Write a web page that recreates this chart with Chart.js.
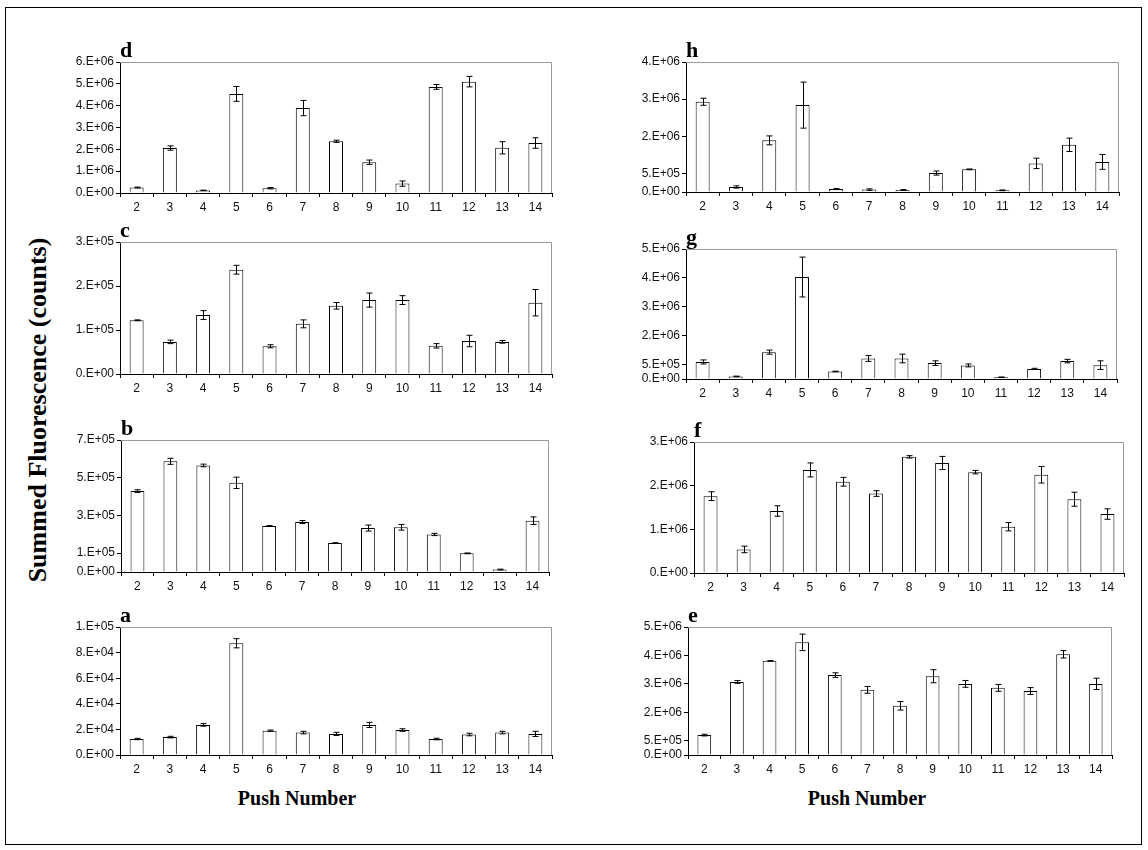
<!DOCTYPE html>
<html>
<head>
<meta charset="utf-8">
<script src="https://cdn.jsdelivr.net/npm/chart.js@4.4.0/dist/chart.umd.min.js"></script>
<style>
  body { margin: 0; background: #fff; width: 1148px; height: 850px; position: relative; overflow: hidden; }
  #frame { position: absolute; left: 5px; top: 7px; width: 1135px; height: 836px; border: 1.5px solid #000; }
  canvas { position: absolute; }
  .axis-title { position: absolute; font: bold 20px "Liberation Serif", "Times New Roman", serif; color: #000; white-space: nowrap; transform: translate(-50%, -50%); }
  #ytitle { font-size: 26px; transform: translate(-50%, -50%) rotate(-90deg); }
</style>
</head>
<body>
<div id="frame"></div>
<div class="axis-title" style="left:297px; top:798px;">Push Number</div>
<div class="axis-title" style="left:867px; top:798px;">Push Number</div>
<div class="axis-title" id="ytitle" style="left:38px; top:410px;">Summed Fluorescence (counts)</div>

<script>
// push numbers on every x axis
const pushNumbers = ['2', '3', '4', '5', '6', '7', '8', '9', '10', '11', '12', '13', '14'];

// mean summed fluorescence and error per push
const meansA = [12500, 14000, 23500, 87300, 19000, 17500, 16500, 23500, 19500, 12500, 16000, 17500, 16500];
const errsA  = [500, 600, 1000, 3600, 500, 1000, 1200, 2000, 1000, 600, 1000, 1000, 2000];

const meansB = [429000, 587000, 565000, 473000, 244000, 265000, 154000, 233000, 237000, 199000, 99000, 13000, 272000];
const errsB  = [7000, 16000, 7000, 30000, 2000, 8000, 1000, 16000, 15000, 6000, 2000, 2000, 20000];

const meansC = [122000, 73000, 134000, 237000, 63000, 114000, 155000, 168000, 168000, 64000, 75000, 73000, 162000];
const errsC  = [1000, 4000, 10000, 10000, 3500, 9000, 7500, 16000, 10000, 5000, 13000, 3000, 30000];

const meansD = [250000, 2060000, 120000, 4540000, 220000, 3890000, 2370000, 1410000, 430000, 4860000, 5100000, 2070000, 2290000];
const errsD  = [20000, 100000, 10000, 340000, 30000, 350000, 50000, 100000, 120000, 110000, 240000, 280000, 240000];

const meansE = [700000, 2570000, 3310000, 3960000, 2810000, 2290000, 1730000, 2770000, 2500000, 2360000, 2250000, 3540000, 2500000];
const errsE  = [30000, 50000, 10000, 290000, 80000, 120000, 150000, 230000, 120000, 120000, 120000, 130000, 200000];

const meansF = [1760000, 540000, 1420000, 2360000, 2090000, 1820000, 2660000, 2520000, 2310000, 1060000, 2250000, 1690000, 1350000];
const errsF  = [100000, 75000, 120000, 160000, 100000, 65000, 27000, 150000, 40000, 95000, 190000, 160000, 120000];

const meansG = [590000, 90000, 930000, 3530000, 260000, 710000, 710000, 550000, 470000, 60000, 350000, 620000, 480000];
const errsG  = [70000, 10000, 70000, 690000, 10000, 100000, 150000, 80000, 50000, 10000, 20000, 60000, 150000];

const meansH = [2430000, 135000, 1390000, 2340000, 80000, 65000, 55000, 510000, 610000, 45000, 770000, 1270000, 810000];
const errsH  = [95000, 30000, 120000, 620000, 15000, 20000, 10000, 55000, 10000, 10000, 140000, 180000, 200000];

// y tick values; the last one is the axis top
const ticksA = [0, 20000, 40000, 60000, 80000, 100000];
const ticksB = [0, 100000, 300000, 500000, 700000];
const ticksC = [0, 100000, 200000, 300000];
const ticksD = [0, 1000000, 2000000, 3000000, 4000000, 5000000, 6000000];
const ticksE = [0, 500000, 1500000, 2500000, 3500000, 4500000];
const ticksF = [0, 1000000, 2000000, 3000000];
const ticksG = [0, 500000, 1500000, 2500000, 3500000, 4500000];
const ticksH = [0, 500000, 1500000, 2500000, 3500000];

// "0.E+00" style labels, mantissa rounded to a whole number
function sciLabel(v) {
  if (v === 0) return '0.E+00';
  let e = Math.floor(Math.log10(v) + 1e-9);
  let m = Math.round(v / Math.pow(10, e) + 1e-9);
  if (m >= 10) { m = 1; e++; }
  return m + '.E' + (e < 0 ? '-' : '+') + String(Math.abs(e)).padStart(2, '0');
}

const PAD_L = 80, PAD_T = 30, PAD_R = 10, PAD_B = 28;

// gray plot-area border on top and right
const plotBorder = {
  id: 'plotBorder',
  beforeDatasetsDraw(chart) {
    const { ctx, chartArea: a } = chart;
    ctx.save();
    ctx.strokeStyle = '#9a9a9a';
    ctx.lineWidth = 1;
    ctx.beginPath();
    ctx.moveTo(a.left, a.top + 0.5);
    ctx.lineTo(a.right - 0.5, a.top + 0.5);
    ctx.lineTo(a.right - 0.5, a.bottom);
    ctx.stroke();
    ctx.restore();
  }
};

// +/- error bars with caps
const errorBars = {
  id: 'errorBars',
  afterDatasetsDraw(chart) {
    const { ctx } = chart;
    const y = chart.scales.y;
    chart.data.datasets.forEach((ds, i) => {
      chart.getDatasetMeta(i).data.forEach((bar, j) => {
        const m = ds.data[j], err = ds.errors[j];
        const x = Math.round(bar.x) + 0.5;
        const yTop = y.getPixelForValue(m + err);
        const yBot = y.getPixelForValue(Math.max(0, m - err));
        ctx.save();
        ctx.strokeStyle = '#000';
        ctx.lineWidth = 1;
        ctx.beginPath();
        ctx.moveTo(x, yTop); ctx.lineTo(x, yBot);
        ctx.moveTo(x - 3, yTop); ctx.lineTo(x + 3, yTop);
        ctx.moveTo(x - 3, yBot); ctx.lineTo(x + 3, yBot);
        ctx.stroke();
        ctx.restore();
      });
    });
  }
};

// panel letter above the plot area
const panelTag = {
  id: 'panelTag',
  afterDraw(chart, args, opts) {
    const { ctx, chartArea: a } = chart;
    ctx.save();
    ctx.font = 'bold 22px "Liberation Serif", "Times New Roman", serif';
    ctx.fillStyle = '#000';
    ctx.textBaseline = 'alphabetic';
    ctx.fillText(opts.text, a.left, a.top - 5);
    ctx.restore();
  }
};

Chart.register(plotBorder, errorBars, panelTag);

const panels = [
  { tag: 'd', means: meansD, errs: errsD, ticks: ticksD, box: [120, 62, 552, 193] },
  { tag: 'c', means: meansC, errs: errsC, ticks: ticksC, box: [120, 242, 552, 374] },
  { tag: 'b', means: meansB, errs: errsB, ticks: ticksB, box: [121, 440, 549, 572] },
  { tag: 'a', means: meansA, errs: errsA, ticks: ticksA, box: [120, 627, 552, 755] },
  { tag: 'h', means: meansH, errs: errsH, ticks: ticksH, box: [686, 62, 1119, 192] },
  { tag: 'g', means: meansG, errs: errsG, ticks: ticksG, box: [686, 249, 1117, 379] },
  { tag: 'f', means: meansF, errs: errsF, ticks: ticksF, box: [694, 442, 1124, 573] },
  { tag: 'e', means: meansE, errs: errsE, ticks: ticksE, box: [688, 627, 1112, 755] }
];

const tickFont = { family: '"Liberation Sans", Arial, sans-serif', size: 12 };

panels.forEach(p => {
  const [l, t, r, b] = p.box;
  const w = r - l + PAD_L + PAD_R;
  const h = b - t + PAD_T + PAD_B;
  const cv = document.createElement('canvas');
  cv.width = w; cv.height = h;
  cv.style.left = (l - PAD_L) + 'px';
  cv.style.top = (t - PAD_T) + 'px';
  cv.style.width = w + 'px';
  cv.style.height = h + 'px';
  document.body.appendChild(cv);

  new Chart(cv, {
    type: 'bar',
    data: {
      labels: pushNumbers,
      datasets: [{
        data: p.means,
        errors: p.errs,
        backgroundColor: '#fff',
        borderColor: '#000',
        borderWidth: 1,
        barPercentage: 0.42,
        categoryPercentage: 1
      }]
    },
    options: {
      responsive: false,
      animation: false,
      layout: { padding: { left: 0, top: PAD_T, right: PAD_R, bottom: 0 } },
      plugins: {
        legend: { display: false },
        tooltip: { enabled: false },
        panelTag: { text: p.tag }
      },
      scales: {
        x: {
          grid: { offset: true, drawOnChartArea: false, tickLength: 4, color: '#000' },
          border: { color: '#000', width: 1 },
          ticks: { color: '#111', font: tickFont, padding: 3, maxRotation: 0, autoSkip: false },
          afterFit: s => { s.height = PAD_B; }
        },
        y: {
          min: 0,
          max: p.ticks[p.ticks.length - 1],
          grid: { drawOnChartArea: false, tickLength: 4, color: '#000' },
          border: { color: '#000', width: 1 },
          ticks: { color: '#111', font: tickFont, padding: 2, callback: v => sciLabel(v) },
          afterBuildTicks: s => { s.ticks = p.ticks.map(v => ({ value: v })); },
          afterFit: s => { s.width = PAD_L; }
        }
      }
    }
  });
});
</script>
</body>
</html>
